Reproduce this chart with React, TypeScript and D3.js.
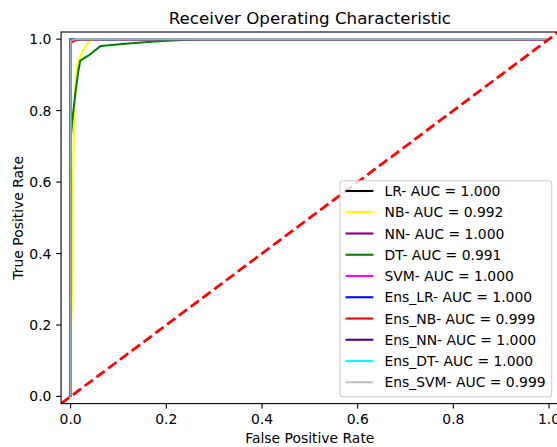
import * as d3 from 'd3';

const TITLE = 'Receiver Operating Characteristic';
const X_LABEL = 'False Positive Rate';
const Y_LABEL = 'True Positive Rate';
const TICKS = [0, 0.2, 0.4, 0.6, 0.8, 1.0];

const MODELS = ['LR', 'NB', 'NN', 'DT', 'SVM', 'Ens_LR', 'Ens_NB', 'Ens_NN', 'Ens_DT', 'Ens_SVM'];
const AUCS = [1.0, 0.992, 1.0, 0.991, 1.0, 1.0, 0.999, 1.0, 1.0, 0.999];
const COLORS = ['black', 'yellow', 'purple', 'green', 'magenta', 'blue', 'red', 'indigo', 'cyan', 'silver'];

// roc points
const LR_FPR = [0, 0, 0.004, 0.015, 1];
const LR_TPR = [0, 0.993, 0.995, 1, 1];
const NB_FPR = [0, 0, 0.003, 0.004, 0.006, 0.008, 0.011, 0.016, 0.02, 0.027, 0.036, 0.046, 1];
const NB_TPR = [0, 0.15, 0.3, 0.5, 0.7, 0.8, 0.9, 0.94, 0.95, 0.97, 0.99, 1, 1];
const NN_FPR = [0, 0, 1];
const NN_TPR = [0, 1, 1];
const DT_FPR = [0, 0, 0.004, 0.01, 0.016, 0.02, 0.04, 0.063, 0.12, 0.19, 0.27, 1];
const DT_TPR = [0, 0.72, 0.78, 0.85, 0.91, 0.94, 0.957, 0.981, 0.988, 0.995, 1, 1];
const SVM_FPR = [0, 0, 1];
const SVM_TPR = [0, 1, 1];
const ENS_LR_FPR = [0, 0, 1];
const ENS_LR_TPR = [0, 1, 1];
const ENS_NB_FPR = [0, 0, 0.01, 0.03, 1];
const ENS_NB_TPR = [0, 0.99, 0.997, 1, 1];
const ENS_NN_FPR = [0, 0, 1];
const ENS_NN_TPR = [0, 1, 1];
const ENS_DT_FPR = [0, 0, 1];
const ENS_DT_TPR = [0, 1, 1];
const ENS_SVM_FPR = [0, 0, 0.01, 1];
const ENS_SVM_TPR = [0, 0.995, 1, 1];

const CURVES = [
  [LR_FPR, LR_TPR], [NB_FPR, NB_TPR], [NN_FPR, NN_TPR], [DT_FPR, DT_TPR], [SVM_FPR, SVM_TPR],
  [ENS_LR_FPR, ENS_LR_TPR], [ENS_NB_FPR, ENS_NB_TPR], [ENS_NN_FPR, ENS_NN_TPR],
  [ENS_DT_FPR, ENS_DT_TPR], [ENS_SVM_FPR, ENS_SVM_TPR],
];
// overlapping lines at the corner blend into a steel colour in the original
const PLOT_OPACITY = [1, 1, 1, 1, 1, 1, 1, 1, 0.5, 0.72];

const W = 557;
const H = 447;
const M = { left: 61.1, right: 558.6, top: 32, bottom: 403.6 };
const FONT = 'DejaVu Sans, sans-serif';
const LW = 2.08;

export default function App() {
  const x = d3.scaleLinear().domain([-0.02, 1.02]).range([M.left, M.right]);
  const y = d3.scaleLinear().domain([-0.02, 1.02]).range([M.bottom, M.top]);
  const line = d3.line<[number, number]>().x(d => x(d[0])).y(d => y(d[1]));

  const legendX = 340;
  const legendY = 180.7;
  const rowH = 21.25;

  return (
    <svg width={W} height={H} style={{ position: 'fixed', left: 0, top: 0, background: 'white' }}
      fontFamily={FONT}>
      <defs>
        <clipPath id="axes-clip">
          <rect x={M.left} y={M.top} width={M.right - M.left} height={M.bottom - M.top} />
        </clipPath>
      </defs>
      <rect width={W} height={H} fill="white" />

      <g clipPath="url(#axes-clip)">
        {CURVES.map(([fpr, tpr], i) => (
          <path key={MODELS[i]}
            d={line(fpr.map((f, j) => [f, tpr[j]] as [number, number])) ?? ''}
            fill="none" stroke={COLORS[i]} strokeWidth={LW} strokeOpacity={PLOT_OPACITY[i]}
            strokeLinejoin="round" />
        ))}
        <path d={line([[-0.02, -0.02], [1.02, 1.02]]) ?? ''} fill="none" stroke="red"
          strokeWidth={2.78} strokeDasharray="10.3 4.4" />
      </g>

      {/* spines */}
      <rect x={M.left} y={M.top} width={M.right - M.left} height={M.bottom - M.top}
        fill="none" stroke="black" strokeWidth={1.1} />

      {/* x ticks */}
      {TICKS.map(t => (
        <g key={'x' + t}>
          <line x1={x(t)} x2={x(t)} y1={M.bottom} y2={M.bottom + 4.86} stroke="black" strokeWidth={1.1} />
          <text x={x(t)} y={424.3} fontSize={13.9} textAnchor="middle">{t.toFixed(1)}</text>
        </g>
      ))}
      {/* y ticks */}
      {TICKS.map(t => (
        <g key={'y' + t}>
          <line x1={M.left - 4.86} x2={M.left} y1={y(t)} y2={y(t)} stroke="black" strokeWidth={1.1} />
          <text x={51.4} y={y(t)} fontSize={13.9} textAnchor="end" dominantBaseline="central">{t.toFixed(1)}</text>
        </g>
      ))}

      <text x={(M.left + M.right) / 2} y={23.7} fontSize={16.7} textAnchor="middle">{TITLE}</text>
      <text x={(M.left + M.right) / 2} y={443.3} fontSize={13.9} textAnchor="middle">{X_LABEL}</text>
      <text transform={`translate(23,${(M.top + M.bottom) / 2}) rotate(-90)`} fontSize={13.9}
        textAnchor="middle">{Y_LABEL}</text>

      {/* legend */}
      <rect x={legendX} y={legendY} width={551.7 - legendX} height={396.7 - legendY}
        rx={2.8} fill="white" fillOpacity={0.8} stroke="#cccccc" strokeWidth={1.1} />
      {MODELS.map((m, i) => {
        const cy = 191 + i * rowH;
        return (
          <g key={'leg' + m}>
            <line x1={345.6} x2={373.4} y1={cy} y2={cy} stroke={COLORS[i]} strokeWidth={LW} />
            <text x={384.5} y={cy + 5} fontSize={13.9}>{`${m}- AUC = ${AUCS[i].toFixed(3)}`}</text>
          </g>
        );
      })}
    </svg>
  );
}
